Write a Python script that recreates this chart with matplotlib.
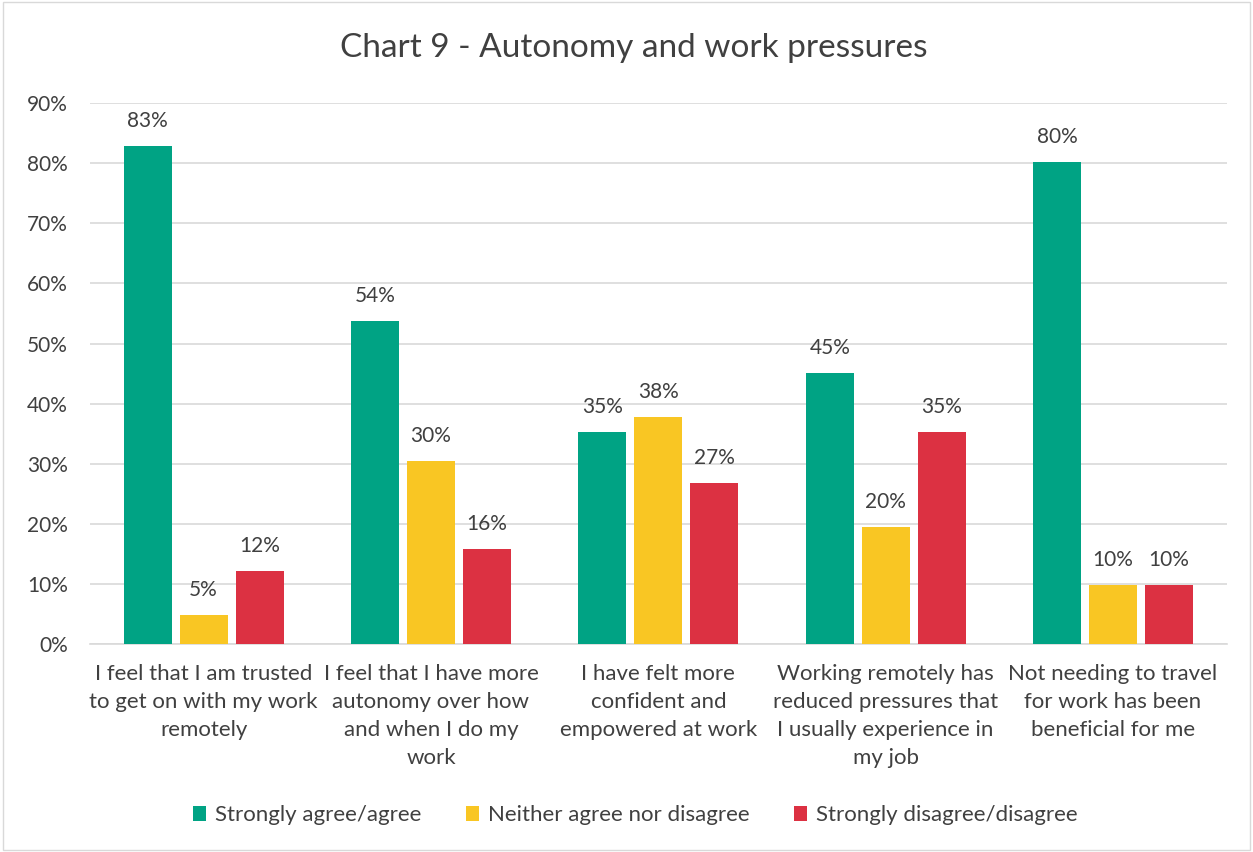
import matplotlib
matplotlib.use('Agg')
import matplotlib.pyplot as plt
from matplotlib.patches import Rectangle
import numpy as np

categories = [
    "I feel that I am trusted\nto get on with my work\nremotely",
    "I feel that I have more\nautonomy over how\nand when I do my\nwork",
    "I have felt more\nconfident and\nempowered at work",
    "Working remotely has\nreduced pressures that\nI usually experience in\nmy job",
    "Not needing to travel\nfor work has been\nbeneficial for me",
]
series_names = ["Strongly agree/agree", "Neither agree nor disagree", "Strongly disagree/disagree"]
agree = [82.9, 53.7, 35.3, 45.1, 80.2]
neither = [4.9, 30.5, 37.8, 19.5, 9.9]
disagree = [12.1, 15.9, 26.8, 35.3, 9.9]
colors = ["#00A384", "#F9C623", "#DC3142"]

plt.rcParams['font.family'] = ['Lato', 'DejaVu Sans']
text_color = "#404040"

fig = plt.figure(figsize=(12.53, 8.52), dpi=100)
fig.patches.append(Rectangle((0.002, 0.002), 0.996, 0.996, transform=fig.transFigure,
                             fill=False, edgecolor="#D9D9D9", linewidth=1))
ax = fig.add_axes([0.0718, 0.244, 0.9072, 0.635])

x = np.arange(len(categories))
width = 0.211
offset = 0.246
for i, (vals, name) in enumerate(zip([agree, neither, disagree], series_names)):
    pos = x + (i - 1) * offset
    bars = ax.bar(pos, vals, width, color=colors[i], label=name, zorder=3)
    for b, v in zip(bars, vals):
        ax.text(b.get_x() + b.get_width() / 2, v + 2.5, f"{v:.0f}%", ha='center', va='bottom',
                fontsize=15, color=text_color)

ax.set_xlim(-0.5, len(categories) - 0.5)
ax.set_ylim(0, 90)
ax.set_yticks(np.arange(0, 91, 10))
ax.set_yticklabels([f"{t}%" for t in range(0, 91, 10)], fontsize=15, color=text_color)
ax.set_xticks(x)
ax.set_xticklabels(categories, fontsize=16, color=text_color, linespacing=1.5, va='top')
ax.yaxis.grid(True, color="#D9D9D9", linewidth=1.2, zorder=0)
ax.tick_params(axis='y', length=0, pad=16)
ax.tick_params(axis='x', length=0, pad=14)
for s in ['top', 'right', 'left']:
    ax.spines[s].set_visible(False)
ax.spines['bottom'].set_color("#D9D9D9")
ax.spines['bottom'].set_linewidth(1.2)

fig.text(0.506, 0.944, "Chart 9 - Autonomy and work pressures", fontsize=24, color=text_color,
         ha='center', va='center')

fig.legend(loc='center', bbox_to_anchor=(0.507, 0.043), ncol=3, frameon=False, fontsize=16,
           handlelength=0.6, handleheight=0.6, handletextpad=0.4, columnspacing=2.0,
           labelcolor=text_color)

fig.savefig("out.png", dpi=100)
